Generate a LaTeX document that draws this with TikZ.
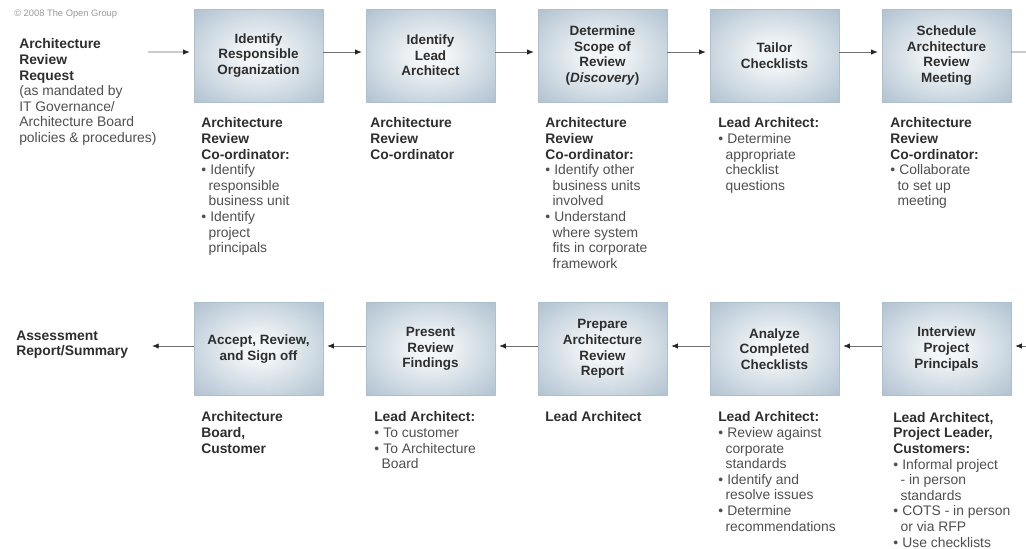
\documentclass[tikz,border=0pt]{standalone}
\usepackage{fontspec}
\setmainfont{Liberation Sans}
\usetikzlibrary{arrows.meta}
\definecolor{boxin}{HTML}{F3F6F8}
\definecolor{boxmid}{HTML}{B8C8D5}
\definecolor{boxout}{HTML}{8BA4B9}
\definecolor{boxedge}{HTML}{7A95AB}
\definecolor{txtdark}{HTML}{2E2E2E}
\definecolor{txtgray}{HTML}{505050}
\definecolor{linegray}{HTML}{707070}
\pgfdeclareradialshading{boxshade}{\pgfpoint{0bp}{0bp}}{color(0bp)=(boxin); color(6bp)=(boxin); color(32bp)=(boxmid); color(50bp)=(boxout); color(72bp)=(boxedge)}
\newcommand\lblhead[1]{\textcolor{txtdark}{\bfseries #1}}
\newcommand\cind{\hspace*{5.5pt}}
\newcommand\bul{\textbullet\hspace{3.2pt}}
\begin{document}
\begin{tikzpicture}[x=0.75pt,y=-0.75pt,
  procbox/.style={shading=boxshade, draw=boxedge!60, line width=0.3pt,
    minimum width=96.75pt, minimum height=69.5pt, align=center,
    font=\fontsize{10.1}{11.7}\selectfont\bfseries, text=txtdark, inner sep=0pt},
  lbl/.style={anchor=north west, align=left, inner sep=0pt,
    font=\fontsize{10.4}{11.7}\selectfont, text=txtgray},
  arr/.style={draw=linegray, line width=0.6pt,
    -{Latex[length=5pt,width=4pt,color=black!85]}, shorten >=3pt},
  plainline/.style={draw=linegray, line width=0.6pt}]
\fill[white] (0,0) rectangle (1026,549);
\useasboundingbox (0,0) rectangle (1026,549);

\node[anchor=base west, inner sep=0pt, font=\fontsize{7}{8}\selectfont, text=black!40] (copy) at (14,17) {© 2008 The Open Group};

% top row boxes
\node[procbox] (b1) at (258.5,55.5) {Identify\\Responsible\\Organization};
\node[procbox] (b2) at (430.5,55.5) {Identify\\Lead\\Architect};
\node[procbox] (b3) at (602.5,55.5) {Determine\\Scope of\\Review\\(\textit{Discovery})};
\node[procbox] (b4) at (774.5,55.5) {Tailor\\Checklists};
\node[procbox] (b5) at (946.5,55.5) {Schedule\\Architecture\\Review\\Meeting};

% bottom row boxes
\node[procbox] (c1) at (258.5,349) {Accept, Review,\\and Sign off};
\node[procbox] (c2) at (430.5,349) {Present\\Review\\Findings};
\node[procbox] (c3) at (602.5,349) {Prepare\\Architecture\\Review\\Report};
\node[procbox] (c4) at (774.5,349) {Analyze\\Completed\\Checklists};
\node[procbox] (c5) at (946.5,349) {Interview\\Project\\Principals};

% left labels
\node[lbl] (req) at (19,38.5) {\lblhead{Architecture}\\\lblhead{Review}\\\lblhead{Request}\\(as mandated by\\IT Governance/\\Architecture Board\\policies \& procedures)};
\node[lbl] (assess) at (16,330.5) {\lblhead{Assessment}\\\lblhead{Report/Summary}};

% top labels
\node[lbl] (t1) at (201,117.5) {\lblhead{Architecture}\\\lblhead{Review}\\\lblhead{Co-ordinator:}\\\bul Identify\\\cind responsible\\\cind business unit\\\bul Identify\\\cind project\\\cind principals};
\node[lbl] (t2) at (370,117.5) {\lblhead{Architecture}\\\lblhead{Review}\\\lblhead{Co-ordinator}};
\node[lbl] (t3) at (545,117.5) {\lblhead{Architecture}\\\lblhead{Review}\\\lblhead{Co-ordinator:}\\\bul Identify other\\\cind business units\\\cind involved\\\bul Understand\\\cind where system\\\cind fits in corporate\\\cind framework};
\node[lbl] (t4) at (718,117.5) {\lblhead{Lead Architect:}\\\bul Determine\\\cind appropriate\\\cind checklist\\\cind questions};
\node[lbl] (t5) at (890,117.5) {\lblhead{Architecture}\\\lblhead{Review}\\\lblhead{Co-ordinator:}\\\bul Collaborate\\\cind to set up\\\cind meeting};

% bottom labels
\node[lbl] (u1) at (201,411.5) {\lblhead{Architecture}\\\lblhead{Board,}\\\lblhead{Customer}};
\node[lbl] (u2) at (374,411.5) {\lblhead{Lead Architect:}\\\bul To customer\\\bul To Architecture\\\cind Board};
\node[lbl] (u3) at (545,411.5) {\lblhead{Lead Architect}};
\node[lbl] (u4) at (718,411.5) {\lblhead{Lead Architect:}\\\bul Review against\\\cind corporate\\\cind standards\\\bul Identify and\\\cind resolve issues\\\bul Determine\\\cind recommendations};
\node[lbl] (u5) at (893,412) {\lblhead{Lead Architect,}\\\lblhead{Project Leader,}\\\lblhead{Customers:}\\\bul Informal project\\\cind - in person\\\cind standards\\\bul COTS - in person\\\cind or via RFP\\\bul Use checklists};

% connectors top
\coordinate (reqout) at (148,52);
\draw[arr] (reqout) -- ([yshift=2.6pt]b1.west);
\draw[arr] ([yshift=2.6pt]b1.east) -- ([yshift=2.6pt]b2.west);
\draw[arr] ([yshift=2.6pt]b2.east) -- ([yshift=2.6pt]b3.west);
\draw[arr] ([yshift=2.6pt]b3.east) -- ([yshift=2.6pt]b4.west);
\draw[arr] ([yshift=2.6pt]b4.east) -- ([yshift=2.6pt]b5.west);
\coordinate (topexit) at (1026,52);
\draw[plainline] ([yshift=2.6pt]b5.east) -- (topexit);

% connectors bottom
\coordinate (botentry) at (1026,346);
\draw[arr] (botentry) -- ([yshift=2.25pt]c5.east);
\draw[arr] ([yshift=2.25pt]c5.west) -- ([yshift=2.25pt]c4.east);
\draw[arr] ([yshift=2.25pt]c4.west) -- ([yshift=2.25pt]c3.east);
\draw[arr] ([yshift=2.25pt]c3.west) -- ([yshift=2.25pt]c2.east);
\draw[arr] ([yshift=2.25pt]c2.west) -- ([yshift=2.25pt]c1.east);
\coordinate (botexit) at (152,346);
\draw[arr, shorten >=0pt] ([yshift=2.25pt]c1.west) -- (botexit);
\end{tikzpicture}
\end{document}
